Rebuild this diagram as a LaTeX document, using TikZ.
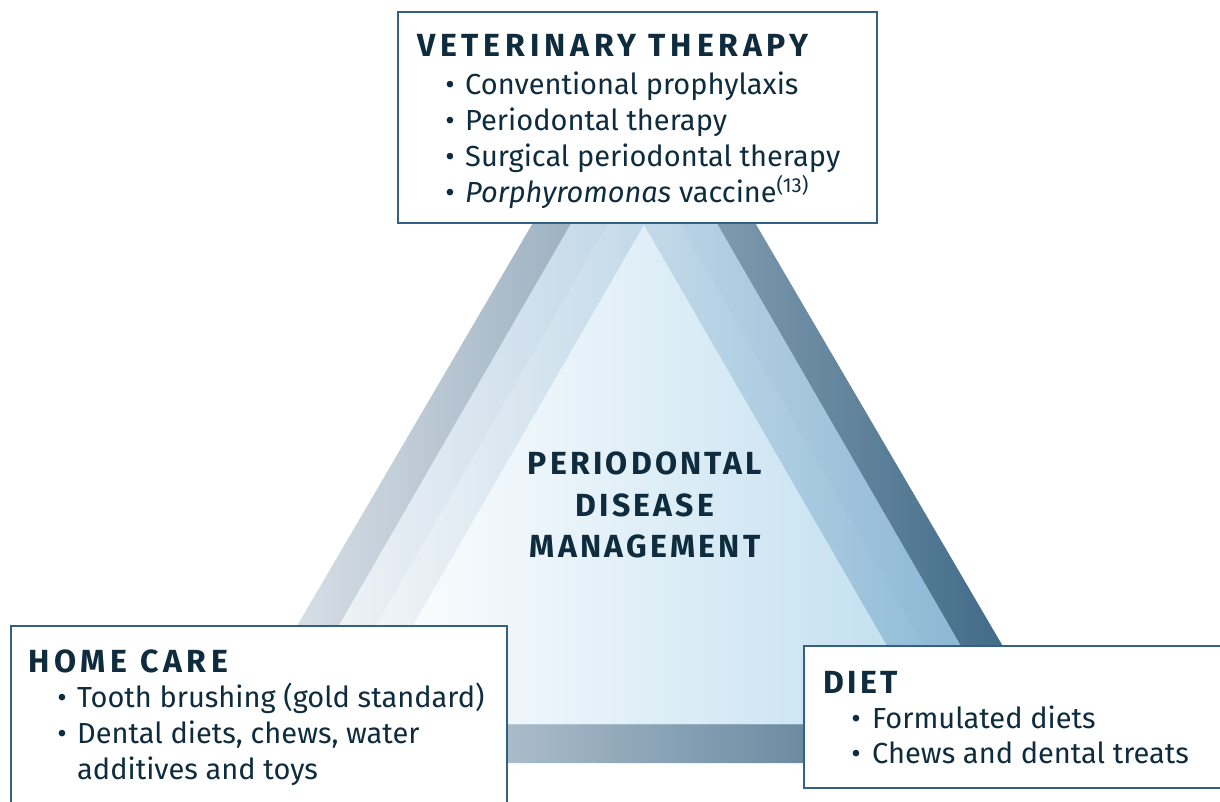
\documentclass[tikz,border=0pt]{standalone}
\usepackage{fontspec}
\setmainfont{Fira Sans}
\newfontfamily\headfont{Fira Sans}[LetterSpace=15]
\newfontfamily\titlefont{Fira Sans}[LetterSpace=10]
\newfontfamily\dietfont{Fira Sans}[LetterSpace=11]
\definecolor{txt}{HTML}{0E2C3D}
\definecolor{edge}{HTML}{33617F}
\definecolor{tAl}{HTML}{E8EBF0}\definecolor{tAm}{HTML}{849DB3}\definecolor{tAr}{HTML}{33607F}
\definecolor{tBl}{HTML}{F6F7F9}\definecolor{tBm}{HTML}{DEE8F0}\definecolor{tBr}{HTML}{86B3D2}
\definecolor{tCl}{HTML}{FAFAFB}\definecolor{tCm}{HTML}{E6EEF4}\definecolor{tCr}{HTML}{8CB9D6}
\definecolor{tDl}{HTML}{FFFFFF}\definecolor{tDm}{HTML}{F1F6F9}\definecolor{tDr}{HTML}{C0DEEF}
\begin{document}
\begin{tikzpicture}[x=1pt,y=-1pt,
  box/.style={draw=edge, line width=2pt, fill=white, inner sep=0pt, anchor=north west},
  head/.style={anchor=base west, inner sep=0pt, text=txt, font=\headfont\bfseries\fontsize{32}{32}\selectfont},
  title/.style={anchor=base, inner sep=0pt, text=txt, font=\titlefont\bfseries\fontsize{32}{32}\selectfont},
  item/.style={anchor=base west, inner sep=0pt, text=txt, font=\fontsize{29}{29}\selectfont},
  bul/.style={anchor=base, inner sep=0pt, text=txt, font=\fontsize{29}{29}\selectfont}]
\useasboundingbox (0,0) rectangle (1220,801);
\fill[white] (0,0) rectangle (1220,801);
\clip (0,0) rectangle (1220,801);
% nested triangles (equilateral, centred on x = 644)
\coordinate (A1) at (644,33);  \coordinate (A2) at (216.8,763); \coordinate (A3) at (1071.2,763);
\coordinate (B1) at (644,97);  \coordinate (B2) at (282,724);   \coordinate (B3) at (1006,724);
\coordinate (C1) at (644,161); \coordinate (C2) at (319,724);   \coordinate (C3) at (969,724);
\coordinate (D1) at (644,225); \coordinate (D2) at (356,724);   \coordinate (D3) at (932,724);
\shade[left color=tAl, middle color=tAm, right color=tAr] (A1) -- (A2) -- (A3) -- cycle;
\shade[left color=tBl, middle color=tBm, right color=tBr] (B1) -- (B2) -- (B3) -- cycle;
\shade[left color=tCl, middle color=tCm, right color=tCr] (C1) -- (C2) -- (C3) -- cycle;
\shade[left color=tDl, middle color=tDm, right color=tDr] (D1) -- (D2) -- (D3) -- cycle;
% boxes
\node[box, minimum width=479pt, minimum height=211pt] (vetbox) at (397,11) {};
\node[box, minimum width=496pt, minimum height=200pt] (homebox) at (10,625) {};
\node[box, minimum width=430pt, minimum height=142pt] (dietbox) at (803,645) {};
% veterinary therapy
\node[head] (vethead) at (417,56) {VETERINARY THERAPY};
\node[bul] (vb1) at (450,94) {•};
\node[item] (vi1) at (465,94) {Conventional prophylaxis};
\node[bul] (vb2) at (450,130) {•};
\node[item] (vi2) at (465,130) {Periodontal therapy};
\node[bul] (vb3) at (450,166) {•};
\node[item] (vi3) at (465,166) {Surgical periodontal therapy};
\node[bul] (vb4) at (450,202) {•};
\node[item] (vi4) at (465,202) {\textit{Porphyromonas} vaccine\textsuperscript{(13)}};
% centre title
\node[title] (t1) at (645,474) {PERIODONTAL};
\node[title] (t2) at (645,516) {DISEASE};
\node[title] (t3) at (645,557) {MANAGEMENT};
% home care
\node[head] (homehead) at (28,672) {HOME CARE};
\node[bul] (hb1) at (62,707) {•};
\node[item] (hi1) at (77,707) {Tooth brushing (gold standard)};
\node[bul] (hb2) at (62,743) {•};
\node[item] (hi2) at (77,743) {Dental diets, chews, water};
\node[item] (hi3) at (77,779) {additives and toys};
% diet
\node[head, font=\dietfont\bfseries\fontsize{32}{32}\selectfont] (diethead) at (823,693) {DIET};
\node[bul] (db1) at (856,728) {•};
\node[item] (di1) at (872,728) {Formulated diets};
\node[bul] (db2) at (856,763) {•};
\node[item] (di2) at (872,763) {Chews and dental treats};
\end{tikzpicture}
\end{document}
